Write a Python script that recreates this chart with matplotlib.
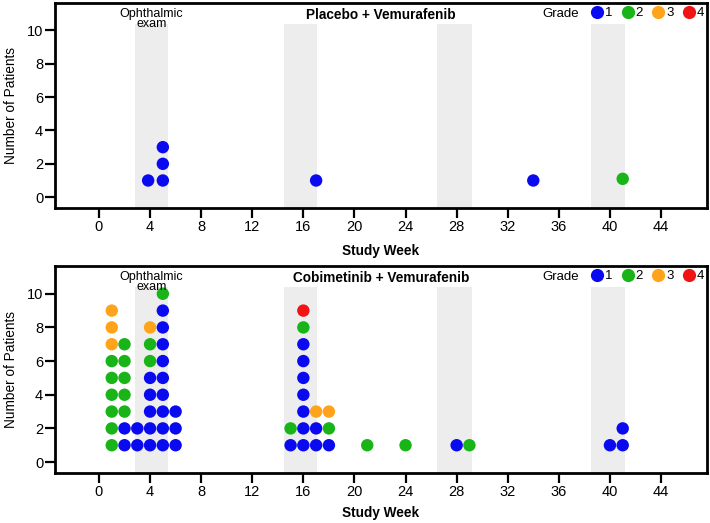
import matplotlib
matplotlib.use("Agg")
import matplotlib.pyplot as plt
from matplotlib.lines import Line2D

plt.rcParams['font.family'] = ['Liberation Sans', 'DejaVu Sans']

# grade colours
grade_colors = {1: '#0a0af0', 2: '#18b418', 3: '#ffa31a', 4: '#f01414'}
grade_labels = ['1', '2', '3', '4']

# ophthalmic exam windows (study week)
band_starts = [2.8, 14.5, 26.5, 38.5]
band_ends = [5.4, 17.1, 29.2, 41.2]

# Placebo + Vemurafenib
pla_weeks = [3.85, 5, 5, 5, 17, 34, 41]
pla_count = [1, 1, 2, 3, 1, 1, 1.1]
pla_grade = [1, 1, 1, 1, 1, 1, 2]

# Cobimetinib + Vemurafenib
cob_weeks = [1, 1, 1, 1, 1, 1, 1, 1, 1,
             2, 2, 2, 2, 2, 2, 2,
             3, 3,
             4, 4, 4, 4, 4, 4, 4, 4,
             5, 5, 5, 5, 5, 5, 5, 5, 5, 5,
             6, 6, 6,
             15, 15,
             16, 16, 16, 16, 16, 16, 16, 16, 16,
             17, 17, 17,
             18, 18, 18,
             21, 24, 28, 29, 40, 41, 41]
cob_count = [1, 2, 3, 4, 5, 6, 7, 8, 9,
             1, 2, 3, 4, 5, 6, 7,
             1, 2,
             1, 2, 3, 4, 5, 6, 7, 8,
             1, 2, 3, 4, 5, 6, 7, 8, 9, 10,
             1, 2, 3,
             1, 2,
             1, 2, 3, 4, 5, 6, 7, 8, 9,
             1, 2, 3,
             1, 2, 3,
             1, 1, 1, 1, 1, 1, 2]
cob_grade = [2, 2, 2, 2, 2, 2, 3, 3, 3,
             1, 1, 2, 2, 2, 2, 2,
             1, 1,
             1, 1, 1, 1, 1, 2, 2, 3,
             1, 1, 1, 1, 1, 1, 1, 1, 1, 2,
             1, 1, 1,
             1, 2,
             1, 1, 1, 1, 1, 1, 1, 2, 4,
             1, 1, 3,
             1, 2, 3,
             2, 2, 1, 2, 1, 1, 1]

x_ticks = list(range(0, 45, 4))
y_ticks = list(range(0, 11, 2))

fig = plt.figure(figsize=(7.1, 5.23), dpi=100)
ax_top = fig.add_axes([0.0775, 0.6023, 0.9183, 0.392])
ax_bot = fig.add_axes([0.0775, 0.0956, 0.9183, 0.3958])


def draw_panel(ax, weeks, counts, grades, title, xlab_y):
    for s, e in zip(band_starts, band_ends):
        ax.fill_between([s, e], -0.65, 10.4, color='#ededed', lw=0, zorder=0)
    ax.scatter(weeks, counts, s=80, c=[grade_colors[g] for g in grades],
               edgecolors='none', zorder=3)
    ax.set_xlim(-3.44, 47.6)
    ax.set_ylim(-0.65, 11.65)
    ax.set_xticks(x_ticks)
    ax.set_yticks(y_ticks)
    ax.tick_params(direction='out', length=7, width=1.6, labelsize=10.5, pad=1.5)
    for sp in ax.spines.values():
        sp.set_linewidth(2)
    ax.set_ylabel('Number of Patients', fontsize=9.8)
    ax.yaxis.set_label_coords(-0.057, 0.5)
    ax.set_xlabel('Study Week', fontsize=9.8, fontweight='bold')
    ax.xaxis.set_label_coords(0.5, xlab_y)
    ax.text(0.5, 0.975, title, transform=ax.transAxes, ha='center', va='top',
            fontsize=9.8, fontweight='bold')
    ax.text(4.1, 0.975, 'Ophthalmic\nexam', transform=ax.get_xaxis_transform(),
            ha='center', va='top', fontsize=9, linespacing=0.75)
    ax.text(0.748, 0.975, 'Grade', transform=ax.transAxes, ha='left', va='top',
            fontsize=9.5)
    handles = [Line2D([], [], ls='none', marker='o', ms=9.5, mec='none',
                      mfc=grade_colors[g]) for g in (1, 2, 3, 4)]
    ax.legend(handles, grade_labels, ncol=4, loc='upper right',
              bbox_to_anchor=(1.01, 1.025), frameon=False, fontsize=9.5,
              handlelength=0.9, handletextpad=0.15, columnspacing=0.72,
              borderaxespad=0.3)


draw_panel(ax_top, pla_weeks, pla_count, pla_grade, 'Placebo + Vemurafenib', -0.175)
draw_panel(ax_bot, cob_weeks, cob_count, cob_grade, 'Cobimetinib + Vemurafenib', -0.16)

fig.savefig('out.png', dpi=100)
